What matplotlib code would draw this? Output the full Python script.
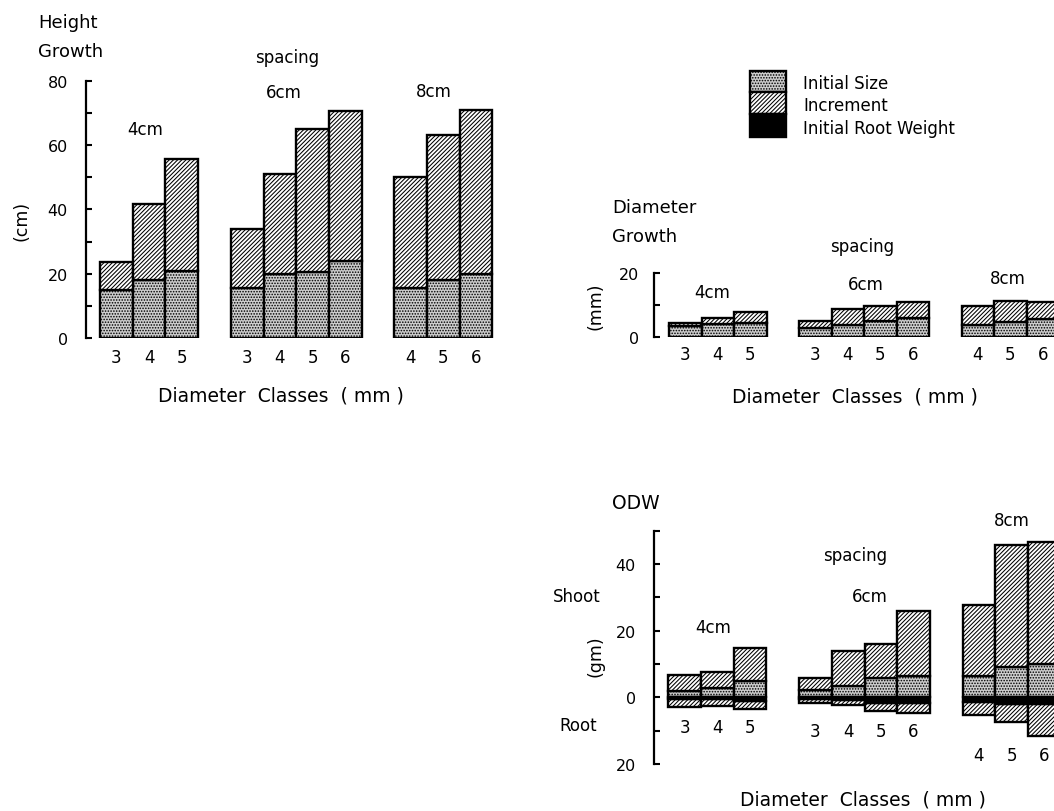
import matplotlib
matplotlib.use("Agg")
import matplotlib.pyplot as plt
from matplotlib.patches import Rectangle
import numpy as np

plt.rcParams['font.family'] = ['DejaVu Sans']
plt.rcParams['hatch.linewidth'] = 0.75

# ---------------- data ----------------
spacings = ['4cm', '6cm', '8cm']
classes_4 = [3, 4, 5]
classes_6 = [3, 4, 5, 6]
classes_8 = [4, 5, 6]

height_initial_4 = [15.0, 18.0, 20.7]
height_total_4 = [23.7, 41.7, 55.7]
height_initial_6 = [15.6, 19.9, 20.6, 23.8]
height_total_6 = [33.9, 51.0, 65.0, 70.7]
height_initial_8 = [15.7, 18.0, 19.8]
height_total_8 = [50.1, 63.0, 71.0]

diam_initial_4 = [3.3, 4.1, 4.4]
diam_total_4 = [4.3, 5.8, 7.9]
diam_initial_6 = [2.7, 3.6, 4.9, 5.8]
diam_total_6 = [5.0, 8.7, 9.8, 10.9]
diam_initial_8 = [3.8, 4.8, 5.5]
diam_total_8 = [9.6, 11.1, 10.8]

odw_shoot_initial_4 = [1.8, 2.7, 5.0]
odw_shoot_total_4 = [6.7, 7.7, 14.9]
odw_root_initial_4 = [0.6, 0.6, 1.0]
odw_root_total_4 = [2.8, 2.5, 3.5]
odw_shoot_initial_6 = [2.3, 3.3, 5.8, 6.3]
odw_shoot_total_6 = [5.7, 14.0, 16.0, 25.8]
odw_root_initial_6 = [0.6, 0.7, 1.6, 1.7]
odw_root_total_6 = [1.7, 2.3, 4.0, 4.7]
odw_shoot_initial_8 = [6.4, 9.0, 10.0]
odw_shoot_total_8 = [27.7, 45.7, 46.5]
odw_root_initial_8 = [1.5, 2.0, 2.0]
odw_root_total_8 = [5.4, 7.5, 11.7]

height_yticks = [0, 10, 20, 30, 40, 50, 60, 70, 80]
height_yticklabels = ['0', '', '20', '', '40', '', '60', '', '80']
diam_yticks = [0, 10, 20]
diam_yticklabels = ['0', '', '20']
odw_yticks = [-20, -10, 0, 10, 20, 30, 40, 50]
odw_yticklabels = ['20', '', '0', '', '20', '', '40', '']

# ---------------- layout ----------------
W, H = 1054, 812
fig = plt.figure(figsize=(W / 100, H / 100), dpi=100)

group_starts = [0, 4, 9]
classes_all = [classes_4, classes_6, classes_8]

def px_axes(left, top, right, bottom):
    return fig.add_axes([left / W, 1 - bottom / H, (right - left) / W, (bottom - top) / H])

EDGE = 1.7
STIP = dict(facecolor='#cdcdcd', edgecolor='black', hatch='......', linewidth=EDGE)
INC = dict(facecolor='white', edgecolor='black', hatch='////////', linewidth=EDGE)
ROOT = dict(facecolor='black', edgecolor='black', linewidth=EDGE)

def style_axes(ax, yticks, ylabels, ylo, yhi, pad):
    for s in ['top', 'right', 'bottom']:
        ax.spines[s].set_visible(False)
    ax.spines['left'].set_linewidth(1.6)
    ax.spines['left'].set_bounds(ylo, yhi)
    ax.patch.set_visible(False)
    ax.set_yticks(yticks)
    ax.set_yticklabels(ylabels, fontsize=11.5)
    ax.tick_params(axis='y', direction='in', length=4, width=1.5, pad=pad)

def positions(k):
    return [group_starts[k] + i for i in range(len(classes_all[k]))]

# ---- Height growth ----
ax1 = px_axes(86, 81.7, 100 + 12.3 * 32.7, 339)
ax1.set_xlim(-0.43, 12.3)
ax1.set_ylim(0, 80)
style_axes(ax1, height_yticks, height_yticklabels, 0, 80, 13)
for k, (ini, tot) in enumerate([(height_initial_4, height_total_4),
                                 (height_initial_6, height_total_6),
                                 (height_initial_8, height_total_8)]):
    xs = positions(k)
    ini = np.array(ini); tot = np.array(tot)
    ax1.bar(xs, ini, width=1, align='edge', **STIP)
    ax1.bar(xs, tot - ini, bottom=ini, width=1, align='edge', **INC)
centers = [p + 0.5 for k in range(3) for p in positions(k)]
labels = [str(c) for cl in classes_all for c in cl]
ax1.set_xticks(centers)
ax1.set_xticklabels(labels, fontsize=12)
ax1.tick_params(axis='x', length=0, pad=7)

# ---- Diameter growth ----
ax2 = px_axes(654, 274, 669 + 12.3 * 32.5, 338)
ax2.set_xlim(-15 / 32.5, 12.3)
ax2.set_ylim(0, 20)
style_axes(ax2, diam_yticks, diam_yticklabels, 0, 20, 11)
for k, (ini, tot) in enumerate([(diam_initial_4, diam_total_4),
                                 (diam_initial_6, diam_total_6),
                                 (diam_initial_8, diam_total_8)]):
    xs = positions(k)
    ini = np.array(ini); tot = np.array(tot)
    ax2.bar(xs, ini, width=1, align='edge', **STIP)
    ax2.bar(xs, tot - ini, bottom=ini, width=1, align='edge', **INC)
ax2.set_xticks(centers)
ax2.set_xticklabels(labels, fontsize=12)
ax2.tick_params(axis='x', length=0, pad=6)

# ---- ODW ----
ax3 = px_axes(654, 531.7, 668.3 + 12.3 * 32.7, 765)
ax3.set_xlim(-14.3 / 32.7, 12.3)
ax3.set_ylim(-20, 50)
style_axes(ax3, odw_yticks, odw_yticklabels, -20, 50, 13)
odw_sets = [(odw_shoot_initial_4, odw_shoot_total_4, odw_root_initial_4, odw_root_total_4),
            (odw_shoot_initial_6, odw_shoot_total_6, odw_root_initial_6, odw_root_total_6),
            (odw_shoot_initial_8, odw_shoot_total_8, odw_root_initial_8, odw_root_total_8)]
for k, (si, st, ri, rt) in enumerate(odw_sets):
    xs = positions(k)
    si, st, ri, rt = map(np.array, (si, st, ri, rt))
    ax3.bar(xs, si, width=1, align='edge', **STIP)
    ax3.bar(xs, st - si, bottom=si, width=1, align='edge', **INC)
    ax3.bar(xs, rt - ri, bottom=-rt, width=1, align='edge', **INC)
    ax3.bar(xs, ri, bottom=-ri, width=1, align='edge', **ROOT)
    ylab = -rt.max() - 5.5
    for x, c in zip(xs, classes_all[k]):
        ax3.text(x + 0.5, ylab, str(c), ha='center', va='center', fontsize=12)
ax3.set_xticks([])

# ---------------- overlay texts & legend (pixel coords) ----------------
ov = fig.add_axes([0, 0, 1, 1])
ov.set_xlim(0, W)
ov.set_ylim(H, 0)
ov.axis('off')

def t(x, y, s, size=12, ha='center', rot=0):
    ov.text(x, y, s, ha=ha, va='center', fontsize=size, rotation=rot)

# Height chart
t(38, 23, 'Height', 13, ha='left')
t(38, 52, 'Growth', 13, ha='left')
t(22, 221, '(cm)', 12.5, rot=90)
t(287, 58, 'spacing', 12)
t(283.5, 93, spacings[1], 12)
t(145, 130, spacings[0], 12)
t(434, 92, spacings[2], 12)
t(281, 396, 'Diameter  Classes  ( mm )', 13.5)

# Diameter chart
t(612, 208, 'Diameter', 13, ha='left')
t(612, 237, 'Growth', 13, ha='left')
t(595, 306, '(mm)', 12.5, rot=90)
t(862, 247, 'spacing', 12)
t(866, 285, spacings[1], 12)
t(712, 293, spacings[0], 12)
t(1008, 279, spacings[2], 12)
t(855, 397, 'Diameter  Classes  ( mm )', 13.5)

# ODW chart
t(612, 504, 'ODW', 13.5, ha='left')
t(1012, 521, spacings[2], 12)
t(855, 556, 'spacing', 12)
t(870, 597, spacings[1], 12)
t(713, 628, spacings[0], 12)
t(577, 597, 'Shoot', 12)
t(578, 726, 'Root', 12)
t(596, 656, '(gm)', 12.5, rot=90)
t(863, 800, 'Diameter  Classes  ( mm )', 13.5)

# Legend
ov.add_patch(Rectangle((750, 71.7), 35.7, 21.6, **STIP))
ov.add_patch(Rectangle((750, 93.3), 35.7, 21.7, **INC))
ov.add_patch(Rectangle((750, 115), 35.7, 23.3, **ROOT))
t(803, 84, 'Initial Size', 12, ha='left')
t(803, 106, 'Increment', 12, ha='left')
t(803, 129, 'Initial Root Weight', 12, ha='left')

fig.savefig('out.png', dpi=100)
